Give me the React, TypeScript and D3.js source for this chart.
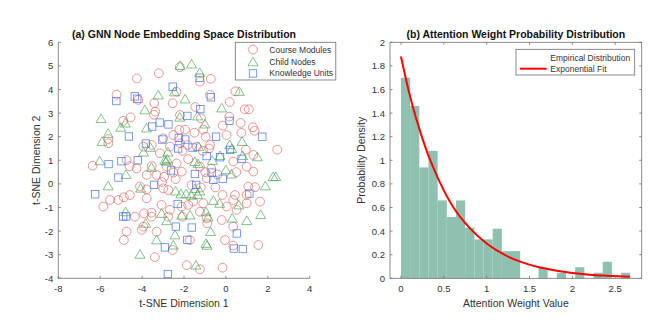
import React from "react";
import * as d3 from "d3";

// ---- data ----
const coursePoints: [number, number][] = [
  [-4.25, 4.47], [-3.2, 4.69], [-0.72, 4.45], [-1.24, 4.33], [-2.2, 4.95],
  [-5.22, 3.78], [-4.18, 3.56], [-2.36, 3.91], [-2.54, 3.42], [-3.42, 3.42], [-3.37, 3.06], [-3.43, 2.93], [-4.55, 2.82], [-4.9, 2.67],
  [-0.76, 3.77], [0.45, 3.92], [0.18, 3.47], [0.9, 3.16], [1.1, 3.16], [-1.46, 3.26], [-2.19, 2.92], [-1.19, 2.78],
  [-2.22, 2.29], [-1.95, 2.3], [-1.08, 2.3], [-0.15, 2.47], [0.7, 2.58], [0.16, 2.85], [1.29, 2.4], [1.37, 2.25], [0.03, 2.07],
  [-0.96, 2.0], [-1.5, 2.17], [-2.51, 2.07], [-2.99, 1.93], [-5.61, 1.9], [-5.61, 1.72], [-2.67, 1.58], [-2.19, 1.72], [-1.83, 1.65],
  [-1.4, 1.58], [-0.76, 1.65], [-0.8, 1.5], [-2.07, 1.4], [-3.94, 1.58], [-3.54, 1.65], [-3.15, 1.3], [0.74, 2.16], [1.31, 1.23],
  [2.45, 1.45], [0.95, 1.45], [-4.74, 1.01], [-6.36, 0.77], [-4.26, 0.66], [-3.54, 0.76], [-2.83, 0.73], [-2.35, 0.87], [-1.24, 0.73],
  [0.99, 0.73], [1.31, 0.52], [-3.78, 0.38], [-2.95, 0.3], [-2.5, 0.48], [-0.7, 0.65], [-0.4, 0.4], [0.5, 0.5], [-4.6, 0.75],
  [-1.8, 1.05], [-1.1, 1.4], [0.35, 0.95], [-3.31, 0.38], [-2.11, 0.52], [-0.99, 0.5], [-0.92, 0.24], [-1.64, -0.05],
  [-5.53, -0.68], [-5.85, -0.96], [-5.14, -0.68], [-4.87, -0.57], [-4.58, -0.47], [-3.78, -0.61], [-3.78, -0.23], [-4.1, -0.11],
  [-4.34, -1.39], [-3.91, -1.25], [-3.55, -1.22], [-3.55, -1.39], [-3.94, -1.81], [-4.02, -1.95], [-4.74, -2.02], [-4.87, -2.38],
  [-3.31, -2.02], [-3.39, -3.1], [-2.99, -0.19], [-2.75, -0.26], [-3.07, -0.89], [-2.67, -1.1], [-2.75, -1.39], [-2.07, -1.39],
  [-2.11, -0.96], [-1.8, -0.89], [-1.56, -0.75], [-1.08, -0.82], [-1.24, -1.18], [-0.92, -1.46], [-0.89, -1.67], [-0.2, -1.53],
  [0.04, -0.96], [-0.16, -0.47], [0.35, -0.68], [0.43, -0.47], [0.99, -0.47], [1.39, -0.14], [1.07, -0.11], [1.63, -0.75],
  [0.99, -0.82], [0.51, -1.1], [0.35, -1.81], [-0.04, -2.38], [0.35, -2.61], [1.55, -2.59], [-1.72, -2.38], [-2.54, -2.8],
  [-1.87, -3.44], [-1.24, -3.62], [-0.16, -3.55], [-3.05, 0.08], [-2.4, 0.2], [-1.2, -0.15], [-0.5, -0.15],
];

const childPoints: [number, number][] = [
  [-2.18, 5.02], [-1.64, 5.08], [-1.25, 4.72],
  [-3.23, 3.77], [-2.45, 3.9], [-1.95, 3.6], [-3.87, 3.14], [0.64, 3.92], [-0.2, 3.22],
  [-5.96, 2.77], [-4.8, 2.58], [-5.02, 2.4], [-5.62, 2.14], [-5.91, 1.8], [-3.79, 2.37], [-2.2, 2.83], [-1.35, 2.88], [-1.0, 2.54],
  [-3.93, 1.35], [-3.6, 1.55], [-6.02, 0.98], [-2.77, 1.35], [-2.92, 1.0], [-2.85, 0.96], [-2.8, 1.05], [-1.33, 0.86],
  [-1.48, 0.95], [-1.3, 1.58], [-0.28, 1.2], [0.18, 1.66], [0.77, 1.8], [0.28, 1.5], [0.8, 1.2], [1.5, 1.15], [2.25, 0.31],
  [2.38, 0.31], [-4.77, 0.4], [-3.55, 0.7], [0.0, 0.6], [-0.65, 1.0],
  [0.26, 0.42], [-5.62, -0.08], [-4.07, -0.18], [-2.4, -0.3], [-2.15, -0.42], [-1.9, -0.42], [-1.65, -0.48], [-1.35, -0.45],
  [-1.48, -0.2], [-1.25, -0.3], [-0.6, -0.7], [-0.3, -0.82], [0.62, -0.89], [1.88, -0.08],
  [-4.79, -1.18], [-3.83, -1.67], [-3.07, -1.25], [-2.83, -1.56], [-2.11, -1.32], [-1.71, -1.32], [-0.95, -1.18], [-0.85, -1.4],
  [0.3, -1.45], [1.0, -1.55], [1.66, -1.3],
  [-2.43, -2.16], [-3.31, -2.37], [-0.73, -2.02], [-2.51, -2.59], [-0.95, -2.52], [-0.9, -2.6], [-4.1, -2.98], [-1.43, -3.44],
];

const unitPoints: [number, number][] = [
  [-5.23, 3.51], [-4.35, 3.71], [-4.23, 3.61], [-2.54, 4.12], [-1.25, 4.5], [-0.72, 3.67], [-1.22, 3.17], [-1.84, 2.88],
  [-3.52, 2.43], [-3.16, 2.6], [-2.74, 2.52], [-4.63, 2.01], [-3.03, 1.88], [-2.25, 1.95], [-1.94, 1.88], [-0.47, 2.0],
  [0.17, 2.67], [1.74, 2.0], [-3.82, 1.71], [-2.28, 1.5], [-1.59, 1.54], [0.2, 1.44], [-5.6, 0.84], [-4.99, 0.96], [-4.21, 1.0],
  [-0.92, 1.18], [-0.28, 1.13], [0.75, 1.06], [-2.62, 0.57], [-1.48, 0.42], [-0.68, 0.48], [-0.6, 0.17], [-0.15, 0.22],
  [-5.13, 0.27], [-3.43, -0.04], [-1.42, -0.04], [-6.24, -0.44], [1.12, -0.41], [-2.3, -0.85], [-4.9, -1.38], [-4.76, -1.38],
  [-2.39, -1.81], [-1.63, -1.85], [0.52, -2.1], [-1.84, -2.37], [-2.91, -2.69], [0.38, -2.74], [0.81, -2.76], [-2.77, -3.82],
];

const histBinWidth = 0.107;
const histDensity = [
  1.7, 1.46, 0.94, 1.08, 0.66, 0.52, 0.66, 0.43, 0.33, 0.33, 0.42, 0.23, 0.23,
  0, 0, 0.09, 0, 0.047, 0, 0.094, 0, 0.047, 0.14, 0, 0.047,
];

const fitX = [0, 0.1, 0.2, 0.3, 0.4, 0.5, 0.6, 0.8, 1.0, 1.2, 1.4, 1.6, 1.8, 2.0, 2.2, 2.4, 2.67];
const fitY = [1.88, 1.56, 1.3, 1.08, 0.9, 0.745, 0.615, 0.427, 0.295, 0.202, 0.139, 0.095, 0.066, 0.045, 0.031, 0.022, 0.013];

const leftXTicks = [-8, -6, -4, -2, 0, 2, 4];
const leftYTicks = [-4, -3, -2, -1, 0, 1, 2, 3, 4, 5, 6];
const rightXTicks = [0, 0.5, 1, 1.5, 2, 2.5];
const rightYTicks = [0, 0.2, 0.4, 0.6, 0.8, 1, 1.2, 1.4, 1.6, 1.8, 2];

const FONT = "'Liberation Sans', Arial, Helvetica, sans-serif";
const AXIS = "#6e6e6e";
const TXT = "#333333";
const RED = "#e05a5a";
const GREEN = "#3f9f4c";
const BLUE = "#3a6ee6";
const BAR = "#8fc1b0";
const TICK = 2.5;

const triPath = "M0,-4.6L5,4L-5,4Z";

const Circle = ({ x, y }: { x: number; y: number }) => (
  <circle cx={x} cy={y} r={4.4} fill="none" stroke={RED} strokeOpacity={0.8} strokeWidth={0.8} />
);
const Tri = ({ x, y }: { x: number; y: number }) => (
  <path d={triPath} transform={`translate(${x},${y})`} fill="none" stroke={GREEN} strokeOpacity={0.8} strokeWidth={0.8} />
);
const Sq = ({ x, y }: { x: number; y: number }) => (
  <rect x={x - 3.7} y={y - 3.7} width={7.4} height={7.4} fill="none" stroke={BLUE} strokeOpacity={0.85} strokeWidth={0.8} />
);

function ScatterPanel() {
  const x = d3.scaleLinear().domain([-8, 4]).range([58.3, 309.7]);
  const y = d3.scaleLinear().domain([-4, 6]).range([278.3, 42.3]);
  const [x0, x1] = x.range();
  const [y0, y1] = y.range();
  return (
    <g>
      {coursePoints.map((p, i) => <Circle key={"c" + i} x={x(p[0])} y={y(p[1])} />)}
      {childPoints.map((p, i) => <Tri key={"t" + i} x={x(p[0])} y={y(p[1])} />)}
      {unitPoints.map((p, i) => <Sq key={"s" + i} x={x(p[0])} y={y(p[1])} />)}

      {/* axes (box off) */}
      <line x1={x0} x2={x0} y1={y0 + 0.5} y2={y1} stroke={AXIS} strokeWidth={0.8} />
      <line x1={x0} x2={x1} y1={y0} y2={y0} stroke={AXIS} strokeWidth={0.8} />
      {leftXTicks.map((t) => (
        <g key={"lx" + t}>
          <line x1={x(t)} x2={x(t)} y1={y0} y2={y0 - TICK} stroke={AXIS} strokeWidth={0.8} />
          <text x={x(t)} y={y0 + 14} textAnchor="middle" fontSize={9.5} fill={TXT} fontFamily={FONT}>{String(t)}</text>
        </g>
      ))}
      {leftYTicks.map((t) => (
        <g key={"ly" + t}>
          <line x1={x0} x2={x0 + TICK} y1={y(t)} y2={y(t)} stroke={AXIS} strokeWidth={0.8} />
          <text x={x0 - 5} y={y(t) + 3.4} textAnchor="end" fontSize={9.5} fill={TXT} fontFamily={FONT}>{String(t)}</text>
        </g>
      ))}
      <text x={(x0 + x1) / 2} y={307} textAnchor="middle" fontSize={10.5} fill={TXT} fontFamily={FONT}>t-SNE Dimension 1</text>
      <text transform={`translate(40,${(y0 + y1) / 2}) rotate(-90)`} textAnchor="middle" fontSize={10.5} fill={TXT} fontFamily={FONT}>t-SNE Dimension 2</text>
      <text x={(x0 + x1) / 2} y={37.8} textAnchor="middle" fontSize={10.5} fontWeight="bold" fill="#111" fontFamily={FONT}>(a) GNN Node Embedding Space Distribution</text>

      {/* legend */}
      <rect x={235.3} y={42.3} width={100.5} height={37.7} fill="#fff" stroke={AXIS} strokeWidth={0.8} />
      <Circle x={253} y={49.6} />
      <Tri x={253} y={61.8} />
      <Sq x={253} y={73.4} />
      <text x={269.3} y={52.6} fontSize={8.5} fill={TXT} fontFamily={FONT}>Course Modules</text>
      <text x={269.3} y={64.6} fontSize={8.5} fill={TXT} fontFamily={FONT}>Child Nodes</text>
      <text x={269.3} y={76.3} fontSize={8.5} fill={TXT} fontFamily={FONT}>Knowledge Units</text>
    </g>
  );
}

function HistPanel() {
  const x = d3.scaleLinear().domain([-0.128, 2.809]).range([390, 641.7]);
  const y = d3.scaleLinear().domain([0, 2]).range([278.3, 42.3]);
  const [x0, x1] = x.range();
  const [y0, y1] = y.range();
  const fit = d3.line<number>()
    .x((_, i) => x(fitX[i]))
    .y((d) => y(d))
    .curve(d3.curveMonotoneX);
  return (
    <g>
      {histDensity.map((d, i) =>
        d > 0 ? (
          <rect key={"b" + i} x={x(i * histBinWidth)} y={y(d)} width={x((i + 1) * histBinWidth) - x(i * histBinWidth)}
            height={y0 - y(d)} fill={BAR} />
        ) : null
      )}
      <path d={fit(fitY) || ""} fill="none" stroke="#ff0000" strokeWidth={2} />

      <rect x={x0} y={y1} width={x1 - x0} height={y0 - y1} fill="none" stroke={AXIS} strokeWidth={0.8} />
      {rightXTicks.map((t) => (
        <g key={"rx" + t}>
          <line x1={x(t)} x2={x(t)} y1={y0} y2={y0 - TICK} stroke={AXIS} strokeWidth={0.8} />
          <line x1={x(t)} x2={x(t)} y1={y1} y2={y1 + TICK} stroke={AXIS} strokeWidth={0.8} />
          <text x={x(t)} y={y0 + 14} textAnchor="middle" fontSize={9.5} fill={TXT} fontFamily={FONT}>{String(t)}</text>
        </g>
      ))}
      {rightYTicks.map((t) => (
        <g key={"ry" + t}>
          <line x1={x0} x2={x0 + TICK} y1={y(t)} y2={y(t)} stroke={AXIS} strokeWidth={0.8} />
          <line x1={x1} x2={x1 - TICK} y1={y(t)} y2={y(t)} stroke={AXIS} strokeWidth={0.8} />
          <text x={x0 - 5} y={y(t) + 3.4} textAnchor="end" fontSize={9.5} fill={TXT} fontFamily={FONT}>{String(t)}</text>
        </g>
      ))}
      <text x={(x0 + x1) / 2} y={307} textAnchor="middle" fontSize={10.5} fill={TXT} fontFamily={FONT}>Attention Weight Value</text>
      <text transform={`translate(365,${(y0 + y1) / 2}) rotate(-90)`} textAnchor="middle" fontSize={10.5} fill={TXT} fontFamily={FONT}>Probability Density</text>
      <text x={(x0 + x1) / 2} y={37.8} textAnchor="middle" fontSize={10.5} fontWeight="bold" fill="#111" fontFamily={FONT}>(b) Attention Weight Probability Distribution</text>

      {/* legend */}
      <rect x={516} y={49.3} width={118.7} height={25.7} fill="#fff" stroke={AXIS} strokeWidth={0.8} />
      <text x={550.3} y={60.6} fontSize={8.5} fill={TXT} fontFamily={FONT}>Empirical Distribution</text>
      <line x1={520} x2={546.7} y1={68.7} y2={68.7} stroke="#ff0000" strokeWidth={2} />
      <text x={550.3} y={71.6} fontSize={8.5} fill={TXT} fontFamily={FONT}>Exponential Fit</text>
    </g>
  );
}

export default function App() {
  return (
    <svg width={670} height={332} style={{ position: "absolute", left: 0, top: 0, background: "#fff" }}>
      <ScatterPanel />
      <HistPanel />
    </svg>
  );
}
